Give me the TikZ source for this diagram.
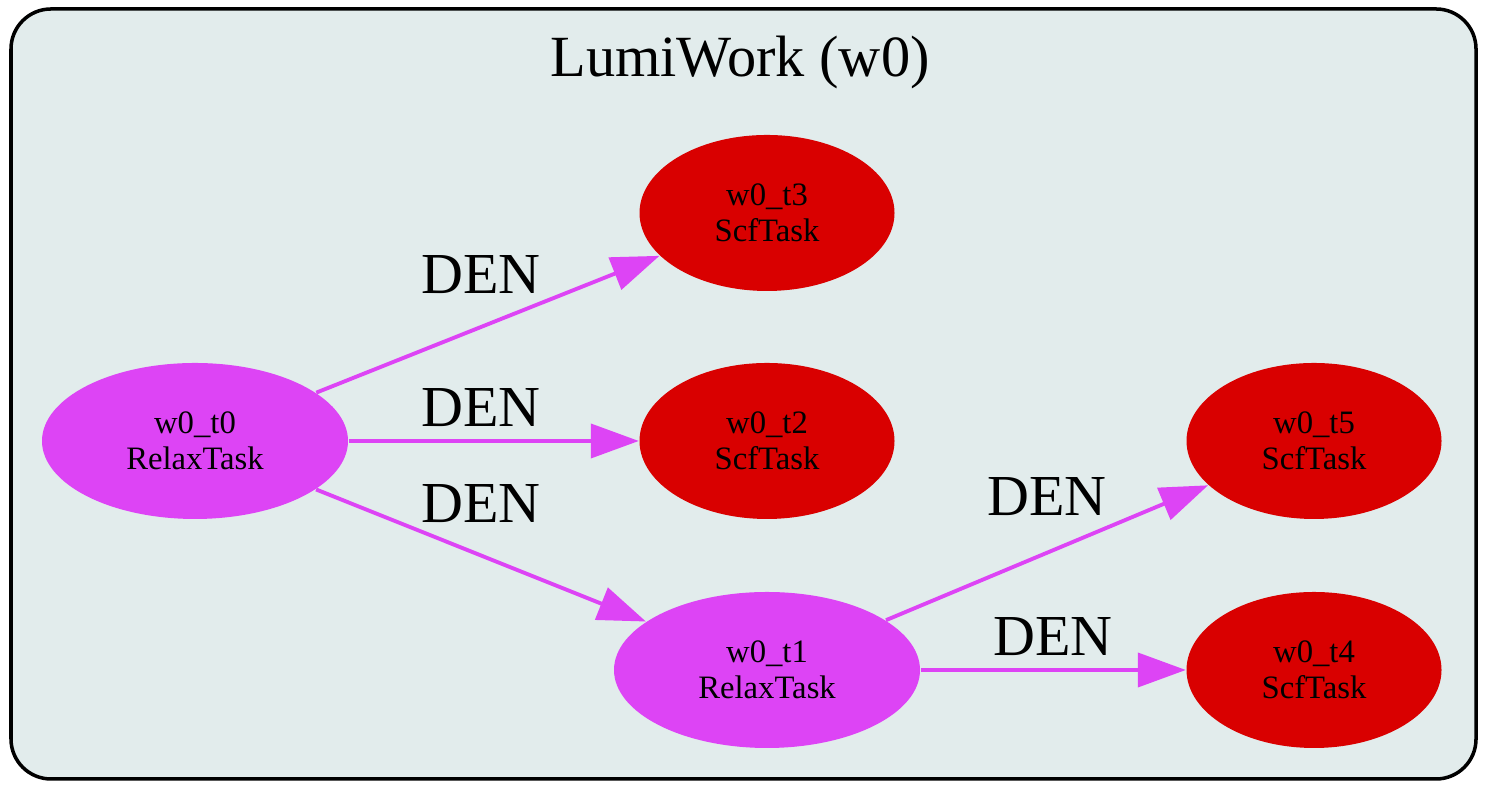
\documentclass[tikz,border=0pt]{standalone}
\usepackage{fontspec}
\setmainfont{Liberation Serif}
\usepackage{tikz}
\usetikzlibrary{arrows.meta,positioning,shapes.geometric}
\definecolor{clusterbg}{HTML}{E2ECEC}
\definecolor{relaxcol}{HTML}{DD44F5}
\definecolor{scfcol}{HTML}{D90000}

\begin{document}
\begin{tikzpicture}[
  task/.style={ellipse,inner sep=0pt,minimum height=1.56cm,align=center,
    font=\fontsize{9.3}{10.2}\selectfont},
  relax/.style={task,fill=relaxcol,minimum width=3.06cm},
  scf/.style={task,fill=scfcol,minimum width=2.55cm},
  lab/.style={anchor=base,inner sep=0pt,font=\fontsize{16.5}{18}\selectfont}]
\useasboundingbox (0,0) rectangle (14.99,7.98);
\draw[fill=clusterbg,line width=1pt,rounded corners=0.4cm] (0.11,0.19) rectangle (14.76,7.89);
\node[anchor=base,font=\fontsize{16.6}{19}\selectfont] (title) at (7.40,7.21) {LumiWork (w0)};
\node[relax] (t0) at (1.95,3.57) {w0\_t0\\RelaxTask};
\node[scf] (t3) at (7.67,5.85) {w0\_t3\\ScfTask};
\node[scf] (t2) at (7.67,3.57) {w0\_t2\\ScfTask};
\node[relax] (t1) at (7.67,1.28) {w0\_t1\\RelaxTask};
\node[scf] (t5) at (13.14,3.57) {w0\_t5\\ScfTask};
\node[scf] (t4) at (13.14,1.28) {w0\_t4\\ScfTask};
\path[-{Triangle[length=0.48cm,width=0.34cm]},draw=relaxcol,fill=relaxcol,line width=1.1pt]
(t0) edge node[lab,xshift=-0.07cm,yshift=0.31cm]{DEN} (t3)
(t0) edge node[lab,xshift=-0.13cm,yshift=0.14cm]{DEN} (t2)
(t0) edge node[lab,yshift=0.33cm]{DEN} (t1)
(t1) edge node[lab,yshift=0.37cm]{DEN} (t5)
(t1) edge node[lab,yshift=0.14cm]{DEN} (t4);
\end{tikzpicture}
\end{document}
